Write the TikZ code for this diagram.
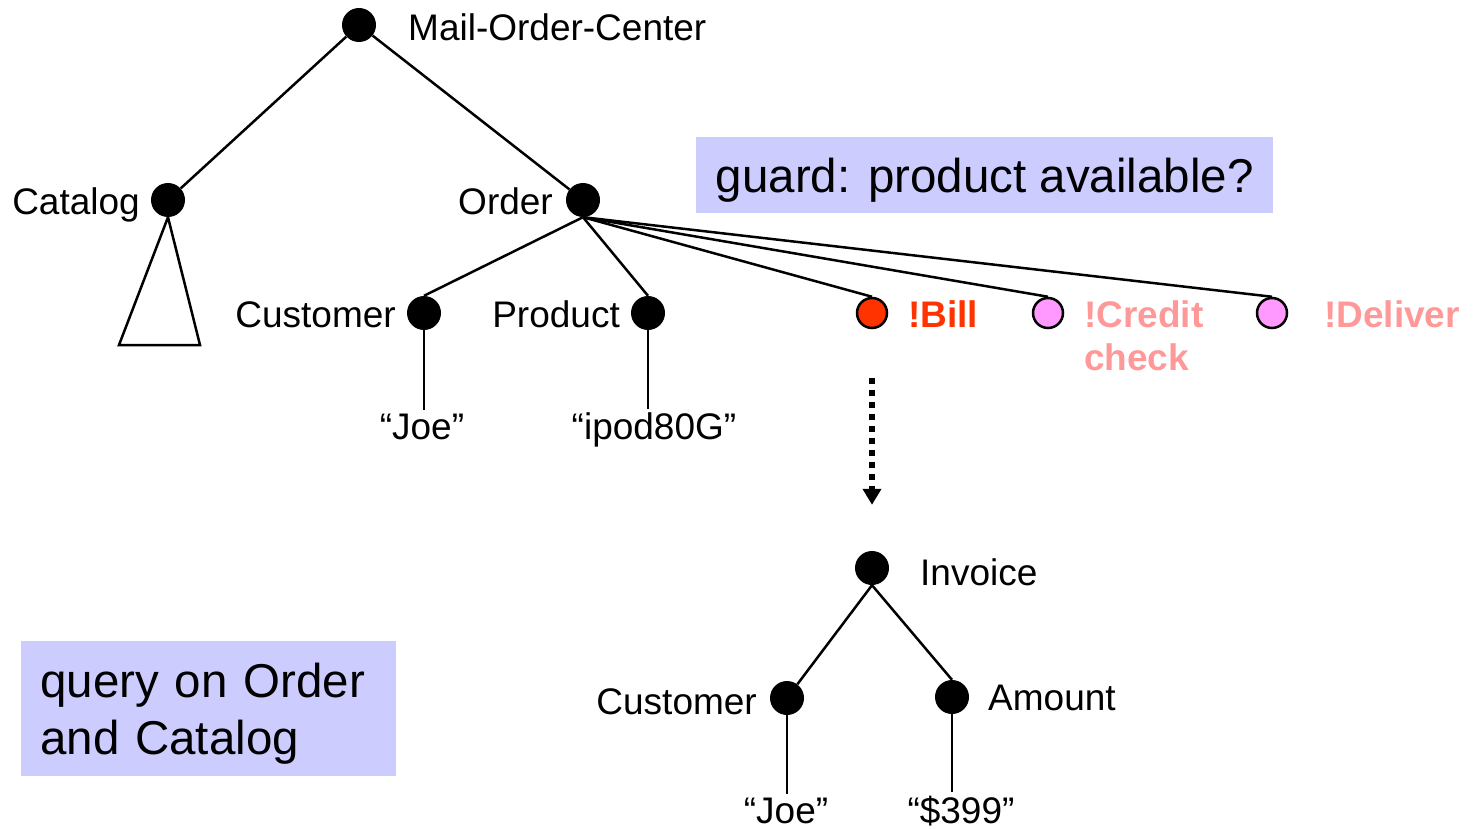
\documentclass[tikz,border=0pt]{standalone}
\usepackage{fontspec}
\setmainfont{Liberation Sans}
\usetikzlibrary{arrows.meta}
\definecolor{boxblue}{HTML}{CCCCFF}
\definecolor{billred}{HTML}{FF3300}
\definecolor{pendfill}{HTML}{FF99FF}
\definecolor{pendtext}{HTML}{FF9999}
\begin{document}
\begin{tikzpicture}[x=1pt,y=-1pt,
  lbl/.style={font=\fontsize{37}{43}\selectfont, inner sep=0pt},
  bang/.style={font=\fontsize{37}{43}\selectfont\bfseries, inner sep=0pt},
  dot/.style={circle, fill=black, minimum size=34pt, inner sep=0pt},
  action/.style={circle, draw=black, line width=2.5pt, minimum size=30pt, inner sep=0pt},
  edge/.style={line width=2.5pt},
  note/.style={fill=boxblue, font=\fontsize{47.5}{57}\selectfont, align=left},
  dotarrow/.style={line width=5.5pt, dash pattern=on 6pt off 6pt,
    -{Triangle[width=18pt,length=16pt]}},
]
\useasboundingbox (0,0) rectangle (1473,829);

% explanatory boxes
\node[note, minimum width=577pt, minimum height=76pt, text height=44pt,
  text depth=10pt, inner sep=0pt, anchor=north west] (guard) at (696,137)
  {guard: product available?};
\node[note, text width=337pt, minimum height=135pt, inner xsep=19pt,
  inner ysep=0pt, text height=35pt, text depth=58pt, anchor=north west]
  (query) at (21,641) {query on Order\\and Catalog};

% document tree
\node[dot] (moc) at (359,25) {};
\node[lbl, anchor=base west] (moclbl) at (408,41) {Mail-Order-Center};
\node[dot] (cat) at (168,200) {};
\node[lbl, anchor=base east] (catlbl) at (140,215) {Catalog};
\node[dot] (ord) at (583,200) {};
\node[lbl, anchor=base east] (ordlbl) at (553,215) {Order};
\node[dot] (cust) at (424,313) {};
\node[lbl, anchor=base east] (custlbl) at (396,327) {Customer};
\node[dot] (prod) at (648,313) {};
\node[lbl, anchor=base east] (prodlbl) at (620,327) {Product};
\node[lbl, anchor=base, inner sep=3pt] (joe) at (422,439) {“Joe”};
\node[lbl, anchor=base, inner sep=3pt] (ipod) at (654,439) {“ipod80G”};

% service calls
\node[action, fill=billred] (bill) at (872,313) {};
\node[bang, anchor=base west, text=billred] (billlbl) at (908,327) {!Bill};
\node[action, fill=pendfill] (credit) at (1048,313) {};
\node[bang, anchor=base west, text=pendtext, align=left] (creditlbl)
  at (1084,370) {!Credit\\check};
\node[action, fill=pendfill] (deliver) at (1272,313) {};
\node[bang, anchor=base west, text=pendtext] (deliverlbl) at (1324,327) {!Deliver};

% catalog subtree
\coordinate (tl) at (119,345);
\coordinate (tr) at (200,345);
\draw[edge, line join=miter] (cat.south) -- (tl) -- (tr) -- cycle;

\draw[edge] (moc) -- (cat);
\draw[edge] (moc) -- (ord);
\draw[edge] (ord.south) -- (cust.north);
\draw[edge] (ord.south) -- (prod.north);
\draw[edge] (ord.south) -- (bill.north);
\draw[edge] (ord.south) -- (credit.north);
\draw[edge] (ord.south) -- (deliver.north);
\draw[edge] (cust.south) -- (cust.south |- joe.north);
\draw[edge] (prod.south) -- (prod.south |- ipod.north);

% result of the call
\node[dot] (inv) at (872,568) {};
\node[lbl, anchor=base west] (invlbl) at (920,585) {Invoice};
\node[dot] (icust) at (787,698) {};
\node[lbl, anchor=base east] (icustlbl) at (757,714) {Customer};
\node[dot] (amt) at (952,697) {};
\node[lbl, anchor=base west] (amtlbl) at (988,710) {Amount};
\node[lbl, anchor=base, inner sep=3pt] (joe2) at (786,823) {“Joe”};
\node[lbl, anchor=base, inner sep=3pt] (price) at (961,823) {“\$399”};

\draw[edge] (inv.south) -- (icust);
\draw[edge] (inv.south) -- (amt.north);
\draw[edge] (icust.south) -- (icust.south |- joe2.north);
\draw[edge] (amt.south) -- (amt.south |- price.north);

\draw[dotarrow, shorten <=49pt, shorten >=46pt] (bill.south) -- (inv.north);
\end{tikzpicture}
\end{document}
